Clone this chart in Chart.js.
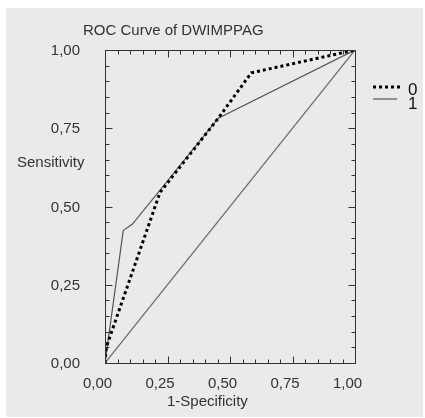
<!DOCTYPE html>
<html>
<head>
<meta charset="utf-8">
<script src="https://cdn.jsdelivr.net/npm/chart.js@4.4.1/dist/chart.umd.min.js"></script>
<style>
  html, body { margin: 0; padding: 0; background: #fff; }
  #wrap { position: absolute; left: 0; top: 0; width: 425px; height: 418px; }
</style>
</head>
<body>
<div id="wrap"><canvas id="roc" width="425" height="418"></canvas></div>
<script>
// data
const chartTitle = 'ROC Curve of DWIMPPAG';
const xTitle = '1-Specificity';
const yTitle = 'Sensitivity';
const seriesNames = ['0', '1'];

const fpr0 = [0, 0.005, 0.22, 0.453, 0.585, 1];
const tpr0 = [0, 0.05, 0.545, 0.782, 0.927, 1];

const fpr1 = [0, 0.073, 0.11, 0.453, 1];
const tpr1 = [0, 0.423, 0.444, 0.782, 1];

const diagX = [0, 1];
const diagY = [0, 1];

const majorTicks = [0, 0.25, 0.5, 0.75, 1];
const tickLabels = ['0,00', '0,25', '0,50', '0,75', '1,00'];

const FONT = '"Liberation Sans", Arial, sans-serif';
const TEXT = '#333';
const BG = '#eaeaea';

function toPoints(xs, ys) {
    return xs.map((x, i) => ({ x: x, y: ys[i] }));
}

function labelFor(value) {
    const i = majorTicks.findIndex(m => Math.abs(m - value) < 1e-6);
    return i === -1 ? '' : tickLabels[i];
}

function isMajor(value) {
    return majorTicks.some(m => Math.abs(m - value) < 1e-6);
}

const frame = {
    id: 'frame',
    beforeDraw(chart) {
        const ctx = chart.ctx;
        ctx.save();
        ctx.fillStyle = '#fff';
        ctx.fillRect(0, 0, chart.width, chart.height);
        ctx.fillStyle = BG;
        ctx.fillRect(6, 8, 417, 409);
        ctx.restore();
    },
    afterDatasetsDraw(chart) {
        const ctx = chart.ctx;
        const a = chart.chartArea;
        const xs = chart.scales.x, ys = chart.scales.y;
        const L = Math.round(a.left) + 0.5, R = Math.round(a.right) + 0.5;
        const T = Math.round(a.top) + 0.5, B = Math.round(a.bottom) + 0.5;

        ctx.save();
        ctx.strokeStyle = '#333';
        ctx.lineWidth = 1;
        ctx.strokeRect(L, T, R - L, B - T);

        // inward tick marks on all four sides
        ctx.beginPath();
        xs.ticks.forEach(t => {
            const px = Math.round(xs.getPixelForValue(t.value)) + 0.5;
            const len = isMajor(t.value) ? 7 : 4;
            ctx.moveTo(px, B); ctx.lineTo(px, B - len);
            ctx.moveTo(px, T); ctx.lineTo(px, T + len);
        });
        ys.ticks.forEach(t => {
            const py = Math.round(ys.getPixelForValue(t.value)) + 0.5;
            const len = isMajor(t.value) ? 7 : 4;
            ctx.moveTo(L, py); ctx.lineTo(L + len, py);
            ctx.moveTo(R, py); ctx.lineTo(R - len, py);
        });
        ctx.stroke();

        // titles
        ctx.fillStyle = TEXT;
        ctx.font = '15px ' + FONT;
        ctx.textBaseline = 'alphabetic';
        ctx.textAlign = 'left';
        ctx.fillText(chartTitle, 83, 35);
        ctx.fillText(yTitle, 17, 167);
        ctx.fillText(xTitle, 167, 406);

        // legend
        const ds = chart.data.datasets;
        [[ds[0], 87, 95], [ds[1], 99, 109]].forEach(([d, ly, ty], i) => {
            ctx.beginPath();
            ctx.strokeStyle = d.borderColor;
            ctx.lineWidth = d.borderWidth;
            ctx.setLineDash(d.borderDash || []);
            ctx.moveTo(373, ly);
            ctx.lineTo(i === 0 ? 403 : 397, ly);
            ctx.stroke();
        });
        ctx.setLineDash([]);
        ctx.fillStyle = '#111';
        ctx.font = '17px ' + FONT;
        ctx.fillText(seriesNames[0], 408, 95);
        ctx.fillText(seriesNames[1], 408, 109);
        ctx.restore();
    }
};

const ctx = document.getElementById('roc').getContext('2d');
new Chart(ctx, {
    type: 'line',
    data: {
        datasets: [{
            label: seriesNames[0],
            data: toPoints(fpr0, tpr0),
            borderColor: '#000',
            borderWidth: 3,
            borderDash: [3, 3],
            borderCapStyle: 'butt',
            pointRadius: 0,
            tension: 0
        }, {
            label: seriesNames[1],
            data: toPoints(fpr1, tpr1),
            borderColor: '#555',
            borderWidth: 1.2,
            pointRadius: 0,
            tension: 0
        }, {
            label: 'ref',
            data: toPoints(diagX, diagY),
            borderColor: '#6a6a6a',
            borderWidth: 1.2,
            pointRadius: 0,
            tension: 0
        }]
    },
    options: {
        responsive: false,
        animation: false,
        layout: { padding: { left: 0, top: 50, right: 70, bottom: 0 } },
        plugins: { legend: { display: false }, title: { display: false }, tooltip: { enabled: false } },
        scales: {
            x: {
                type: 'linear',
                min: 0, max: 1,
                grid: { display: false, drawTicks: false },
                border: { display: false },
                afterFit(scale) { scale.height = 55; },
                ticks: {
                    stepSize: 0.05,
                    autoSkip: false,
                    maxRotation: 0,
                    padding: 12,
                    labelOffset: -7.5,
                    color: TEXT,
                    font: { family: FONT, size: 15 },
                    callback: v => labelFor(v)
                }
            },
            y: {
                type: 'linear',
                min: 0, max: 1,
                grid: { display: false, drawTicks: false },
                border: { display: false },
                afterFit(scale) { scale.width = 105; },
                ticks: {
                    stepSize: 0.05,
                    autoSkip: false,
                    padding: 25,
                    labelOffset: 1,
                    color: TEXT,
                    font: { family: FONT, size: 15 },
                    callback: v => labelFor(v)
                }
            }
        }
    },
    plugins: [frame]
});
</script>
</body>
</html>
